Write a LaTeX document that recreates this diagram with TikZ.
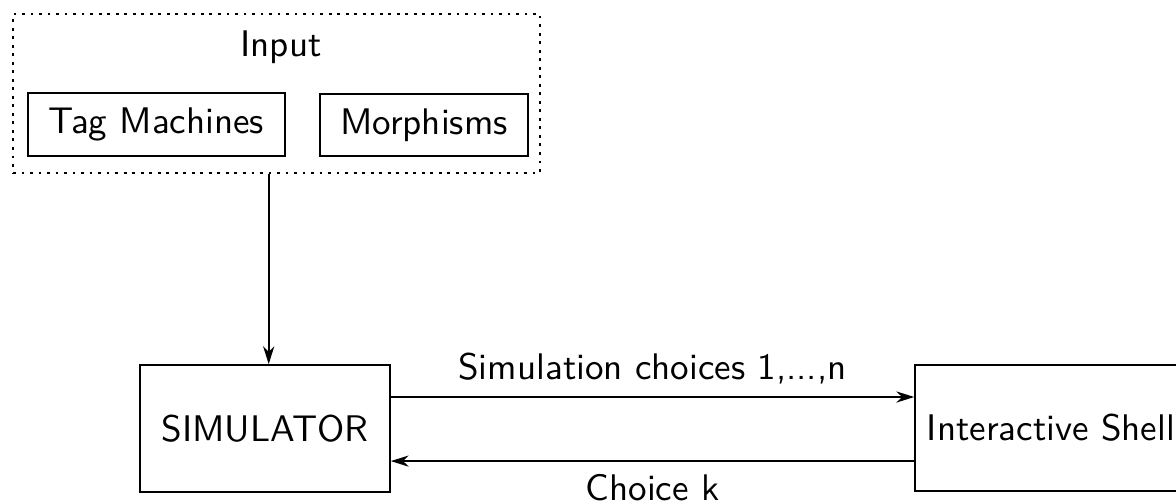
\documentclass[tikz,border=0pt]{standalone}
\usepackage{fontspec}
\usetikzlibrary{arrows.meta}
\begin{document}
\begin{tikzpicture}[x=0.27pt,y=-0.27pt,
  font=\sffamily,
  box/.style={draw, line width=0.45pt, inner sep=0pt, align=center},
  frame/.style={draw, line width=0.75pt, dash pattern=on 0.75pt off 1.55pt, inner sep=0pt},
  arr/.style={line width=0.45pt, -{Stealth[length=4.8pt, width=3pt, inset=1.5pt]}}]
  \useasboundingbox (0,0) rectangle (1176,504);
  \clip (0,0) rectangle (1176,504);

  % input group
  \node[frame, minimum width=142.3pt, minimum height=42.9pt] (input) at (276.5,93.5) {};
  \node[anchor=base, inner sep=0pt] (inlabel) at (281,57) {Input};
  \node[box, minimum width=69.4pt, minimum height=17pt] (tag) at (156.5,124.5) {Tag Machines};
  \node[box, minimum width=56.2pt, minimum height=16.7pt] (morph) at (424,125) {Morphisms};

  % main blocks
  \node[box, minimum width=67.5pt, minimum height=34.3pt] (sim) at (265,428.5) {SIMULATOR};
  \node[box, minimum width=73.4pt, minimum height=34pt] (shell) at (1051,428) {Interactive Shell};

  % connectors
  \draw[arr] ([xshift=1pt]sim.north |- input.south) -- ([xshift=1pt]sim.north);
  \draw[arr] ([yshift=8.5pt]sim.east) -- ([yshift=8.5pt]sim.east -| shell.west)
    node[midway, above] {Simulation choices 1,...,n};
  \draw[arr] ([yshift=-8.8pt]sim.east -| shell.west) -- ([yshift=-8.8pt]sim.east)
    node[midway, below] {Choice k};
\end{tikzpicture}
\end{document}
